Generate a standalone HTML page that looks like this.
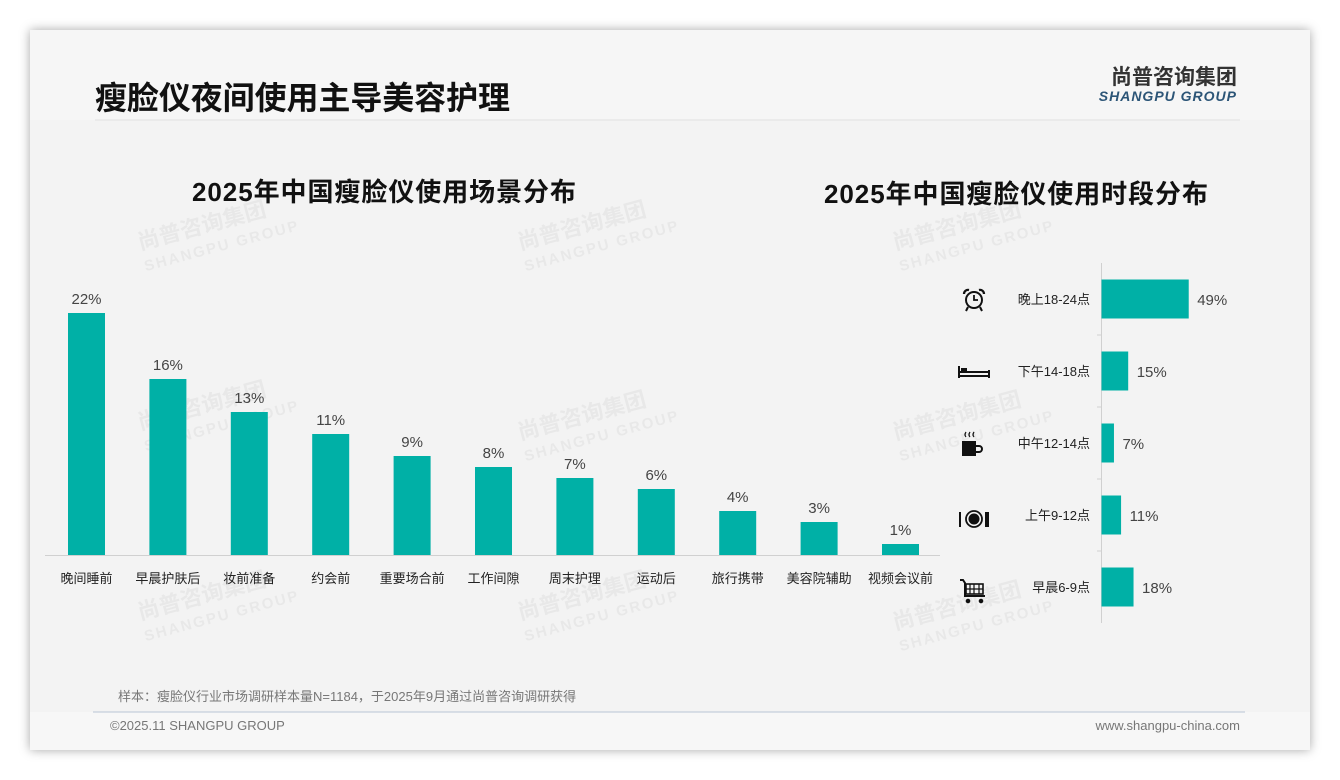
<!DOCTYPE html>
<html><head><meta charset="utf-8">
<style>
body{margin:0;width:1340px;height:780px;background:#fff;font-family:"Liberation Sans","Noto Sans CJK SC",sans-serif;overflow:hidden}
#card{position:absolute;left:30px;top:30px;width:1280px;height:720px;background:#f3f3f3;box-shadow:0 0 10px rgba(0,0,0,0.35)}
svg{position:absolute;left:0;top:0}
</style></head><body>
<div id="card"></div>
<svg id="s" width="1340" height="780">
<rect x="30" y="30" width="1280" height="90" fill="#f6f6f6"/>
<rect x="30" y="712" width="1280" height="38" fill="#f7f7f7"/>
<text x="95" y="109" font-size="32" font-weight="bold" fill="#111" textLength="415">瘦脸仪夜间使用主导美容护理</text>
<text x="1237" y="84" font-size="21" font-weight="bold" fill="#333" text-anchor="end">尚普咨询集团</text>
<text x="1237" y="101" font-size="14" font-weight="bold" font-style="italic" fill="#2c5577" text-anchor="end" letter-spacing="1">SHANGPU GROUP</text>
<line x1="95" y1="120" x2="1240" y2="120" stroke="#e0e0e0"/>
<g fill="#000" opacity="0.045" font-weight="bold">
<g transform="translate(140,250) rotate(-15)"><text font-size="22">尚普咨询集团</text><text y="22" font-size="15" letter-spacing="2">SHANGPU GROUP</text></g>
<g transform="translate(520,250) rotate(-15)"><text font-size="22">尚普咨询集团</text><text y="22" font-size="15" letter-spacing="2">SHANGPU GROUP</text></g>
<g transform="translate(895,250) rotate(-15)"><text font-size="22">尚普咨询集团</text><text y="22" font-size="15" letter-spacing="2">SHANGPU GROUP</text></g>
<g transform="translate(140,430) rotate(-15)"><text font-size="22">尚普咨询集团</text><text y="22" font-size="15" letter-spacing="2">SHANGPU GROUP</text></g>
<g transform="translate(520,440) rotate(-15)"><text font-size="22">尚普咨询集团</text><text y="22" font-size="15" letter-spacing="2">SHANGPU GROUP</text></g>
<g transform="translate(895,440) rotate(-15)"><text font-size="22">尚普咨询集团</text><text y="22" font-size="15" letter-spacing="2">SHANGPU GROUP</text></g>
<g transform="translate(140,620) rotate(-15)"><text font-size="22">尚普咨询集团</text><text y="22" font-size="15" letter-spacing="2">SHANGPU GROUP</text></g>
<g transform="translate(520,620) rotate(-15)"><text font-size="22">尚普咨询集团</text><text y="22" font-size="15" letter-spacing="2">SHANGPU GROUP</text></g>
<g transform="translate(895,630) rotate(-15)"><text font-size="22">尚普咨询集团</text><text y="22" font-size="15" letter-spacing="2">SHANGPU GROUP</text></g>
</g>
<text x="192" y="201" font-size="26" font-weight="bold" fill="#111" textLength="384">2025年中国瘦脸仪使用场景分布</text>
<text x="824" y="203" font-size="26" font-weight="bold" fill="#111" textLength="384">2025年中国瘦脸仪使用时段分布</text>
<line x1="45" y1="555.5" x2="940" y2="555.5" stroke="#d0d0d0"/>
<line x1="1101.5" y1="263" x2="1101.5" y2="623" stroke="#d0d0d0"/>
<g id="left"></g>
<g id="right"></g>
<g fill="#111" stroke="#111">
<g transform="translate(974,300)"><circle r="8" fill="none" stroke-width="2"/><path d="M0-5V0H4" fill="none" stroke-width="1.8"/><path d="M-10-6a4 4 0 0 1 5-4M10-6a4 4 0 0 0-5-4" fill="none" stroke-width="2.2"/><path d="M-6 7l-2 4M6 7l2 4" stroke-width="2"/></g>
<g transform="translate(974,372)"><path d="M-15-6V6M15-2V6M-15 4H15M-15 0H15" stroke-width="2" fill="none"/><rect x="-13" y="-4" width="6" height="3" stroke="none"/></g>
<g transform="translate(972,445)" stroke="none"><rect x="-10" y="-4" width="14" height="15"/><path d="M4 0h3a4 4 0 0 1 0 8h-3v-2h3a2 2 0 0 0 0-4h-3z"/><path d="M-6-13q-2 3 0 5M-2-13q-2 3 0 5M2-13q-2 3 0 5" stroke="#111" stroke-width="1.2" fill="none"/></g>
<g transform="translate(974,519)"><circle r="8" fill="none" stroke-width="1.8"/><circle r="5.5" stroke="none"/><path d="M-14-7V8M12-7V8M14-7V8" stroke-width="2"/></g>
<g transform="translate(974,592)" fill="none"><path d="M-14-12h3l2 3v13h20" stroke-width="2"/><rect x="-8" y="-8" width="17" height="10" stroke-width="1.6"/><path d="M-8-3h17M-4-8v10M0-8v10M5-8v10" stroke-width="1.2"/><circle cx="-6" cy="9" r="1.8" fill="#111"/><circle cx="7" cy="9" r="1.8" fill="#111"/></g>
</g>
<text x="118" y="701" font-size="13" fill="#777">样本：瘦脸仪行业市场调研样本量N=1184，于2025年9月通过尚普咨询调研获得</text>
<line x1="93" y1="712" x2="1245" y2="712" stroke="#b8c6d4"/>
<text x="110" y="730" font-size="13" fill="#777">©2025.11 SHANGPU GROUP</text>
<text x="1240" y="730" font-size="13" fill="#777" text-anchor="end">www.shangpu-china.com</text>
</svg>
<script>
const leftCats=["晚间睡前","早晨护肤后","妆前准备","约会前","重要场合前","工作间隙","周末护理","运动后","旅行携带","美容院辅助","视频会议前"];
const leftVals=[22,16,13,11,9,8,7,6,4,3,1];
const rightCats=["晚上18-24点","下午14-18点","中午12-14点","上午9-12点","早晨6-9点"];
const rightVals=[49,15,7,11,18];
const NS="http://www.w3.org/2000/svg";
const C="#00b0a6";
function mk(t,a,p,txt){const e=document.createElementNS(NS,t);for(const k in a)e.setAttribute(k,a[k]);if(txt!==undefined)e.textContent=txt;p.appendChild(e);return e;}
const xL=i=>86.5+i*81.4, yL=v=>555-v*11;
const gl=document.getElementById('left');
leftVals.forEach((v,i)=>{
 const r=mk('rect',{x:xL(i)-18.5,y:yL(v),width:37,height:555-yL(v),fill:C},gl);
 
 
 const t=mk('text',{x:xL(i),y:yL(v)-9,'font-size':15,fill:'#444','text-anchor':'middle'},gl,v+'%');
 
 
 const c=mk('text',{x:xL(i),y:583,'font-size':13,fill:'#222','text-anchor':'middle'},gl,leftCats[i]);
 
 
});
const yR=i=>299+i*72, xR=v=>1101+v*1.78;
const gr=document.getElementById('right');
rightVals.forEach((v,i)=>{
 const r=mk('rect',{x:1101.5,y:yR(i)-19.5,width:xR(v)-1101,height:39,fill:C},gr);
 
 
 const t=mk('text',{x:xR(v)+9,y:yR(i)+6,'font-size':15,fill:'#444'},gr,v+'%');
 
 
 const c=mk('text',{x:1090,y:yR(i)+5,'font-size':13,fill:'#222','text-anchor':'end'},gr,rightCats[i]);
 
 
 if(i>0){const l=mk('line',{x1:1097,x2:1101,y1:yR(i)-36,y2:yR(i)-36,stroke:'#d0d0d0'},gr);
 
 }
});
</script>
</body></html>
